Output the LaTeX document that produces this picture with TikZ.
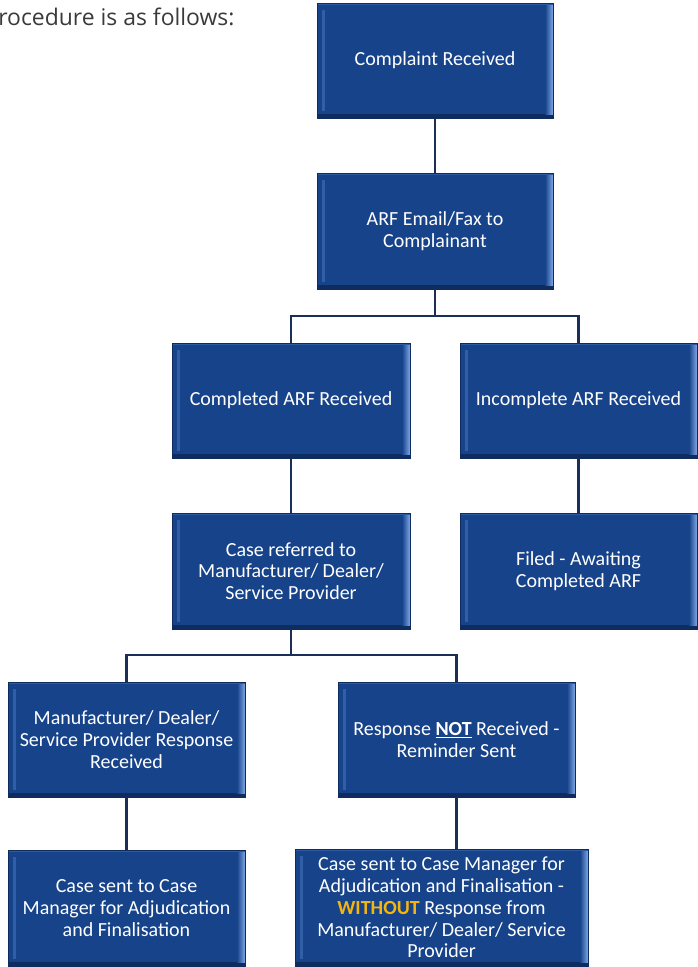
\documentclass[tikz,border=0pt]{standalone}
\usepackage{fontspec}
\setmainfont{Carlito}
\newfontfamily\introfont{Open Sans}
\definecolor{boxmain}{HTML}{17438A}
\definecolor{boxedge}{HTML}{3C6CB5}
\definecolor{boxbright}{HTML}{7FA8E8}
\definecolor{boxdark}{HTML}{0F2C5E}
\definecolor{connector}{HTML}{1B2E55}
\definecolor{warnyellow}{HTML}{F5B50F}
\definecolor{introgrey}{HTML}{3A3A3A}
\begin{document}
\begin{tikzpicture}[x=0.75pt,y=-0.75pt,
  box/.style 2 args={draw=boxdark, line width=0.6pt, fill=boxmain,
    minimum width=#1*0.75pt, minimum height=#2*0.75pt, inner sep=0pt,
    text=white, align=center, font=\fontsize{15}{16.3}\selectfont,
    path picture={
      \fill[boxdark] (path picture bounding box.south west) rectangle ([yshift=3pt]path picture bounding box.south east);
      \fill[boxedge, opacity=0.7] ([xshift=4pt,yshift=5pt]path picture bounding box.south west) rectangle ([xshift=6pt,yshift=-5pt]path picture bounding box.north west);
      \shade[left color=boxmain, right color=boxbright] ([xshift=-6pt,yshift=3pt]path picture bounding box.south east) rectangle ([yshift=-2pt]path picture bounding box.north east);
      \fill[boxedge, opacity=0.6] ([yshift=-1.5pt]path picture bounding box.north west) rectangle (path picture bounding box.north east);
    }},
  link/.style={draw=connector, line width=1.6pt}]
\useasboundingbox (0,0) rectangle (698,967);
\node[anchor=base west, inner sep=0pt, text=introgrey, font=\introfont\fontsize{17.2}{18}\selectfont] (intro) at (-2,26) {rocedure is as follows:};

\node[box={236}{115}] (b1) at (435,60.5) {Complaint Received};
\node[box={236}{116}] (b2) at (435,231) {ARF Email/Fax to\\Complainant};
\node[box={238}{115}] (b3) at (291,400.5) {Completed ARF Received};
\node[box={237}{115}] (b4) at (578.5,400.5) {Incomplete ARF Received};
\node[box={238}{116}] (b5) at (291,571) {Case referred to\\Manufacturer/ Dealer/\\Service Provider};
\node[box={237}{116}] (b6) at (578.5,571) {Filed - Awaiting\\Completed ARF};
\node[box={237}{115}] (b7) at (126.5,739.5) {Manufacturer/ Dealer/\\Service Provider Response\\Received};
\node[box={237}{115}] (b8) at (456.5,739.5) {Response \underline{\textbf{NOT}} Received -\\Reminder Sent};
\node[box={237}{116}] (b9) at (126.5,908) {Case sent to Case\\Manager for Adjudication\\and Finalisation};
\node[box={293}{117}] (b10) at (441.5,907.5) {Case sent to Case Manager for\\Adjudication and Finalisation -\\\textcolor{warnyellow}{\textbf{WITHOUT}} Response from\\Manufacturer/ Dealer/ Service\\Provider};

\coordinate (j1) at (435,316);
\coordinate (j2) at (291,655);
\draw[link] (b1.south) -- (b2.north);
\draw[link] (b2.south) -- (j1);
\draw[link] (j1) -| (b3.north);
\draw[link] (j1) -| (b4.north);
\draw[link] (b3.south) -- (b5.north);
\draw[link] (b4.south) -- (b6.north);
\draw[link] (b5.south) -- (j2);
\draw[link] (j2) -| (b7.north);
\draw[link] (j2) -| (b8.north);
\draw[link] (b7.south) -- (b9.north);
\draw[link] (b8.south) -- (b8.south |- b10.north);
\end{tikzpicture}
\end{document}
